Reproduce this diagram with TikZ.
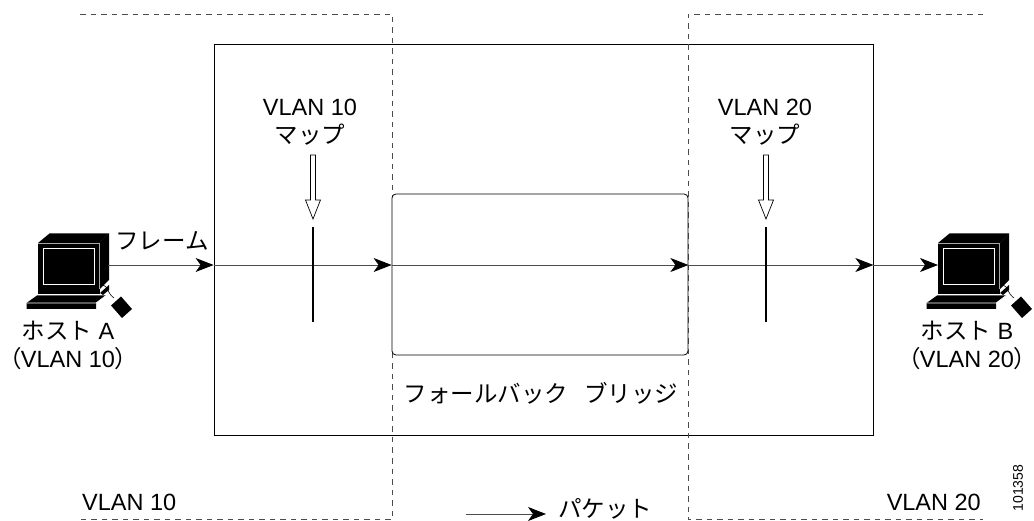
\documentclass[tikz,border=0pt]{standalone}
\usepackage{fontspec}
\setmainfont{Liberation Sans}
\newfontfamily\cjk{Noto Sans CJK JP}
\newfontfamily\cjkparen[RawFeature=+palt]{Noto Sans CJK JP}
\usetikzlibrary{arrows.meta}
\tikzset{
  lbl/.style={inner sep=0pt,font=\fontsize{23.5}{28.5}\selectfont,align=center},
  pkt/.style={line width=0.9pt,black!70,-{Stealth[length=18pt,width=14pt,inset=5pt,black]}},
  vlanline/.style={line width=0.8pt,black!70,dash pattern=on 5.5pt off 5pt},
  mapbar/.style={line width=2.2pt},
  hostpc/.pic={
    \fill (0,0)--(11.5,-9.5)--(71,-9.5)--(61.5,0)--cycle;
    \fill (61.5,0)--(71,-9.5)--(71,37)--(61.5,46.5)--cycle;
    \fill (0,0) rectangle (61.5,46.5);
    \draw[line width=0.8pt,black!35] (0,0)--(61.5,0)--(61.5,46.5);
    \draw[white,line width=0.8pt] (5,5) rectangle (56,41);
    \fill (0,46.5) rectangle (61.5,51);
    \fill (-11.5,60)--(-1,52.5)--(68,52.5)--(58,60)--(58,66)--(-11.5,66)--cycle;
    \draw[white,line width=0.6pt] (-11.5,60)--(58,60)--(68,52.5);
    \fill (62,50)--(71,42)--(71,47)--(65,52)--cycle;
    \draw[line width=0.6pt] (65,42) .. controls (70,43) and (69,50) .. (76,55);
    \fill (73,62.5)--(83,53.5)--(94,66)--(84,75)--cycle;
  },
  maparrow/.pic={
    \draw[line width=0.7pt,fill=white] (-2.5,0)--(2.5,0)--(2.5,45)--(7.5,45)--(0,64)--(-7.5,45)--(-2.5,45)--cycle;
  }
}
\begin{document}
\begin{tikzpicture}[x=1pt,y=-1pt]
\useasboundingbox (0,0) rectangle (1034,521);
\node[draw,line width=0.8pt,minimum width=659pt,minimum height=391pt,inner sep=0pt] (frame) at (543.5,239.5) {};
\draw[vlanline] (80,14)--(392,14)--(392,519.5)--(80,519.5);
\draw[vlanline] (983,14)--(688,14)--(688,519.5)--(983,519.5);
\node[draw,fill=white,rounded corners=4pt,line width=0.8pt,minimum width=296pt,minimum height=161pt,inner sep=0pt] (bridge) at (540,274.5) {};
% hosts
\pic at (38,243) {hostpc};
\pic at (938,243) {hostpc};
\coordinate (hosta) at (108,265);
\coordinate (hostb) at (938,265);
\coordinate (framein) at (frame.west |- hosta);
\coordinate (frameout) at (frame.east |- hosta);
\coordinate (bridgein) at (bridge.west |- hosta);
\coordinate (bridgeout) at (bridge.east |- hosta);
\draw[pkt] (hosta)--(framein);
\draw[pkt] (framein)--(bridgein);
\draw[pkt] (bridgein)--(bridgeout);
\draw[pkt] (bridgeout)--(frameout);
\draw[pkt] (frameout)--(hostb);
% maps
\coordinate (bartop10) at (313,227);
\coordinate (barend10) at (313,322);
\coordinate (bartop20) at (766,227);
\coordinate (barend20) at (766,322);
\draw[mapbar] (bartop10)--(barend10);
\draw[mapbar] (bartop20)--(barend20);
\pic at (313,155) {maparrow};
\pic at (766,155) {maparrow};
\node[lbl] (map10) at (310,122) {VLAN 10\\{\cjk マップ}};
\node[lbl] (map20) at (765,122) {VLAN 20\\{\cjk マップ}};
\node[lbl] (frametxt) at (162,241) {\cjk フレーム};
\node[lbl] (hostatxt) at (68,345.5) {{\cjk ホスト} A\\{\cjkparen （}VLAN 10{\cjkparen ）}};
\node[lbl] (hostbtxt) at (967,345.5) {{\cjk ホスト} B\\{\cjkparen （}VLAN 20{\cjkparen ）}};
\node[lbl] (bridgetxt) at (541,393) {\cjk フォールバック\hspace{0.7em}ブリッジ};
\node[lbl,anchor=west] (vlan10) at (82,502) {VLAN 10};
\node[lbl,anchor=east] (vlan20) at (981,502) {VLAN 20};
% legend
\coordinate (legstart) at (466,514);
\node[lbl,anchor=west] (legtxt) at (558,509) {\cjk パケット};
\draw[pkt,shorten >=12pt] (legstart)--(legtxt.west |- legstart);
\node[rotate=90,inner sep=0pt,font=\fontsize{14}{14}\selectfont] (figno) at (1018,488) {101358};
\end{tikzpicture}
\end{document}
